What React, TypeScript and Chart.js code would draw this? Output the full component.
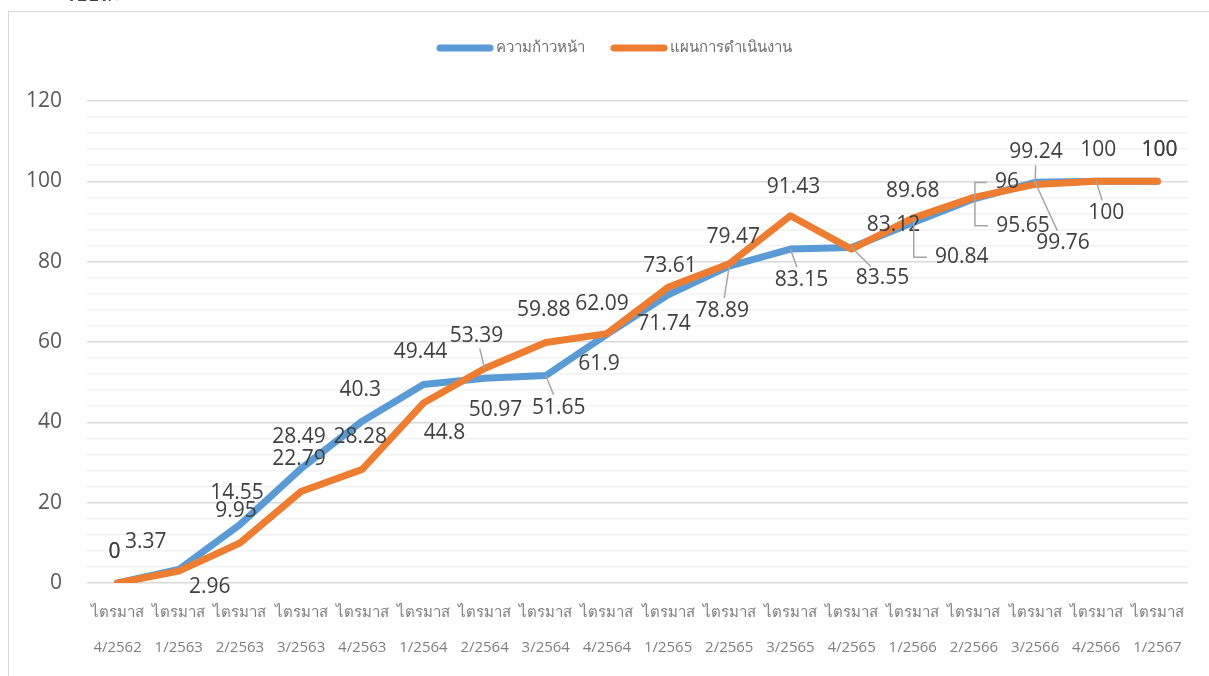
import React, { useEffect, useRef } from 'react';
import { Chart, registerables } from 'chart.js';

Chart.register(...registerables);

const FONT = "'Open Sans', 'Noto Sans', sans-serif";

// ---- data ----
const quarterPrefix = 'ไตรมาส';
const quarters = [
  '4/2562', '1/2563', '2/2563', '3/2563', '4/2563', '1/2564', '2/2564', '3/2564', '4/2564',
  '1/2565', '2/2565', '3/2565', '4/2565', '1/2566', '2/2566', '3/2566', '4/2566', '1/2567',
];
const progressLabel = 'ความก้าวหน้า';
const planLabel = 'แผนการดำเนินงาน';
const progress = [0, 3.37, 14.55, 28.49, 40.3, 49.44, 50.97, 51.65, 61.9, 71.74, 78.89, 83.15, 83.55, 89.68, 95.65, 99.76, 100, 100];
const plan = [0, 2.96, 9.95, 22.79, 28.28, 44.8, 53.39, 59.88, 62.09, 73.61, 79.47, 91.43, 83.12, 90.84, 96, 99.24, 100, 100];
const yMin = 0;
const yMax = 120;
const yMinorStep = 4;
const yMajorStep = 20;

// ---- label placement (styling: pixel offsets from each point) ----
const progressLabelDx = [-3, -33, -3, -2, -2, -3, 11, 13, -8, -4, -7, 11, 31, 0, 49, 28, 10, 2];
const progressLabelDy = [-31, -27, -32, -32, -31, -32, 32, 32, 30, 29, 45, 31, 31, -32, 27, 61, 32, -31];
const progressLeader = [0, 0, 0, 0, 0, 0, 0, 1, 0, 0, 1, 1, 1, 0, 2, 1, 1, 0];
const planLabelDx = [-3, 31, -4, -2, -2, 21, -8, -2, -5, 2, 4, 3, 42, 49, 33, 1, 2, 2];
const planLabelDy = [-31, 16, -32, -32, -32, 30, -33, -32, -30, -21, -27, -29, -24, 39, -15, -32, -31, -31];
const planLeader = [0, 0, 0, 0, 0, 0, 1, 0, 0, 0, 0, 0, 0, 2, 2, 1, 0, 0];

const labelCfg = [
  { dx: progressLabelDx, dy: progressLabelDy, leader: progressLeader },
  { dx: planLabelDx, dy: planLabelDy, leader: planLeader },
];

const framePlugin = {
  id: 'frame',
  beforeDraw(chart: any) {
    const ctx = chart.ctx;
    ctx.save();
    ctx.fillStyle = '#ffffff';
    ctx.fillRect(0, 0, chart.width, chart.height);
    ctx.strokeStyle = '#d9d9d9';
    ctx.lineWidth = 1;
    ctx.strokeRect(8.5, 11.5, 1400, 900);
    ctx.restore();
  },
};

const legendPlugin = {
  id: 'customLegend',
  afterDraw(chart: any) {
    const ctx = chart.ctx;
    ctx.save();
    ctx.font = `15px ${FONT}`;
    const items = chart.data.datasets.map((ds: any) => ({ text: ds.label, color: ds.borderColor }));
    const barW = 57;
    const gapText = 2;
    const gapItem = 26;
    const widths = items.map((it: any) => barW + gapText + ctx.measureText(it.text).width);
    const total = widths.reduce((a: number, b: number) => a + b, 0) + gapItem * (items.length - 1);
    let x = 614 - total / 2;
    const y = 48;
    items.forEach((it: any, i: number) => {
      ctx.strokeStyle = it.color;
      ctx.lineWidth = 7;
      ctx.lineCap = 'round';
      ctx.beginPath();
      ctx.moveTo(x + 3.5, y);
      ctx.lineTo(x + barW - 3.5, y);
      ctx.stroke();
      ctx.fillStyle = '#6f6f6f';
      ctx.textAlign = 'left';
      ctx.textBaseline = 'middle';
      ctx.fillText(it.text, x + barW + gapText, y);
      x += widths[i] + gapItem;
    });
    ctx.restore();
  },
};

const labelPlugin = {
  id: 'pointLabels',
  afterDatasetsDraw(chart: any) {
    const ctx = chart.ctx;
    ctx.save();
    ctx.font = `21px ${FONT}`;
    ctx.textAlign = 'center';
    ctx.textBaseline = 'middle';
    const h = 18;
    chart.data.datasets.forEach((ds: any, di: number) => {
      const meta = chart.getDatasetMeta(di);
      const cfg = labelCfg[di];
      meta.data.forEach((pt: any, i: number) => {
        const lx = pt.x + cfg.dx[i];
        const ly = pt.y + cfg.dy[i];
        const text = String(ds.data[i]);
        const w = ctx.measureText(text).width;
        const lead = cfg.leader[i];
        if (lead) {
          ctx.strokeStyle = '#a6a6a6';
          ctx.lineWidth = 1.5;
          ctx.lineCap = 'butt';
          ctx.beginPath();
          if (lead === 2) {
            ctx.moveTo(pt.x + 1, pt.y);
            ctx.lineTo(pt.x + 1, ly);
            ctx.lineTo(lx - w / 2 - 8, ly);
          } else {
            const vx = pt.x - lx;
            const vy = pt.y - ly;
            const len = Math.hypot(vx, vy);
            const ux = vx / len;
            const uy = vy / len;
            const edge = Math.min(
              Math.abs(ux) > 1e-6 ? (w / 2 + 1) / Math.abs(ux) : Infinity,
              Math.abs(uy) > 1e-6 ? (h / 2) / Math.abs(uy) : Infinity,
            ) + 4;
            if (len > edge) {
              ctx.moveTo(pt.x, pt.y);
              ctx.lineTo(lx + ux * edge, ly + uy * edge);
            }
          }
          ctx.stroke();
        }
        ctx.fillStyle = '#404040';
        ctx.fillText(text, lx, ly);
      });
    });
    ctx.restore();
  },
};

export default function App() {
  const ref = useRef<HTMLCanvasElement | null>(null);

  useEffect(() => {
    document.body.style.overflow = 'hidden';
    document.documentElement.style.overflow = 'hidden';
    const canvas = ref.current;
    if (!canvas) return;
    const chart = new Chart(canvas, {
      type: 'line',
      data: {
        labels: quarters.map((q) => [quarterPrefix, q]),
        datasets: [
          {
            label: progressLabel,
            data: progress,
            borderColor: '#5b9bd5',
            backgroundColor: '#5b9bd5',
            borderWidth: 7,
            borderCapStyle: 'round',
            borderJoinStyle: 'round',
            pointRadius: 0,
            pointHoverRadius: 0,
            tension: 0,
            order: 1,
          },
          {
            label: planLabel,
            data: plan,
            borderColor: '#ed7d31',
            backgroundColor: '#ed7d31',
            borderWidth: 7,
            borderCapStyle: 'round',
            borderJoinStyle: 'round',
            pointRadius: 0,
            pointHoverRadius: 0,
            tension: 0,
            order: 0,
          },
        ],
      },
      options: {
        responsive: false,
        animation: false,
        devicePixelRatio: 1,
        layout: { padding: { top: 101, right: 21, bottom: -1, left: 0 } },
        plugins: {
          legend: { display: false },
          tooltip: { enabled: false },
          title: { display: false },
        },
        scales: {
          x: {
            type: 'category',
            offset: true,
            grid: { display: false, drawTicks: false, offset: true },
            border: { display: false },
            ticks: {
              color: '#7f7f7f',
              padding: 12,
              maxRotation: 0,
              minRotation: 0,
              autoSkip: false,
              font: { family: FONT, size: 15, lineHeight: 35 / 15 },
            },
          },
          y: {
            min: yMin,
            max: yMax,
            afterFit: (scale: any) => {
              scale.width = 87;
            },
            grid: {
              drawTicks: false,
              color: (c: any) => (c.tick && c.tick.value % yMajorStep === 0 ? '#d9d9d9' : '#f2f2f2'),
              lineWidth: 1.6,
            },
            border: { display: false },
            ticks: {
              stepSize: yMinorStep,
              autoSkip: false,
              color: '#595959',
              padding: 25,
              font: { family: FONT, size: 21 },
              callback: (v: any) => (Number(v) % yMajorStep === 0 ? String(v) : ''),
            },
          },
        },
      },
      plugins: [framePlugin, labelPlugin, legendPlugin],
    });
    return () => chart.destroy();
  }, []);

  return (
    <>
      <canvas
        ref={ref}
        width={1209}
        height={676}
        style={{ position: 'fixed', left: 0, top: 0, width: 1209, height: 676, display: 'block' }}
      />
      <div
        style={{
          position: 'fixed',
          left: 65,
          top: -17,
          fontFamily: FONT,
          fontSize: 20,
          color: '#404040',
          lineHeight: '22px',
          whiteSpace: 'nowrap',
        }}
      >
        ร้อยละ
      </div>
    </>
  );
}
